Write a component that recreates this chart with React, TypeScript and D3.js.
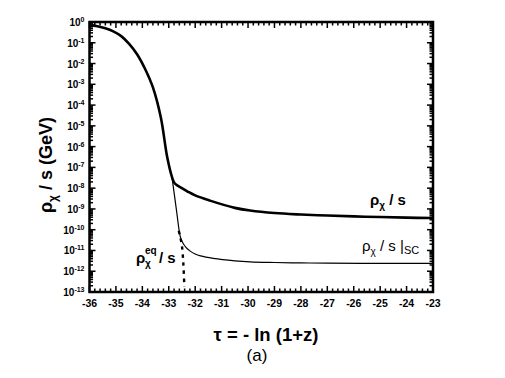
import React from "react";
import * as d3 from "d3";

// tau = -ln(1+z), log10(rho/s)
const thickTau = [-36, -35.7, -35.4, -35.1, -34.8, -34.5, -34.2, -33.9, -33.6, -33.3, -33.06, -32.88, -32.8, -32.7, -32.57, -32.3, -32, -31.44, -30.5, -29.92, -29, -28, -27, -26, -25, -24, -23];
const thickLog = [-0.14, -0.2, -0.3, -0.45, -0.68, -1.05, -1.55, -2.25, -3.15, -4.6, -6.5, -7.46, -7.72, -7.85, -7.95, -8.15, -8.35, -8.6, -8.95, -9.08, -9.2, -9.27, -9.32, -9.36, -9.39, -9.42, -9.44];

const thinTau = [-32.88, -32.8, -32.7, -32.6, -32.55, -32.45, -32.35, -32.2, -32, -31.8, -31.32, -30.5, -29.92, -29, -28, -27, -25, -23];
const thinLog = [-7.46, -8.2, -9.15, -10.1, -10.4, -10.68, -10.85, -11.02, -11.17, -11.26, -11.38, -11.5, -11.55, -11.58, -11.6, -11.61, -11.62, -11.62];

const eqTau = [-32.62, -32.55, -32.5, -32.45, -32.41];
const eqLog = [-10.05, -10.45, -10.8, -11.6, -12.75];

const xTicks = [-36, -35, -34, -33, -32, -31, -30, -29, -28, -27, -26, -25, -24, -23];
const yExps = [0, -1, -2, -3, -4, -5, -6, -7, -8, -9, -10, -11, -12, -13];

const W = 505, H = 378;
const L = 89.5, R = 433, T = 22, B = 292;

export default function App() {
  const x = d3.scaleLinear().domain([-36, -23]).range([L, R]);
  const y = d3.scaleLog().domain([1e-13, 1]).range([B, T]);

  const mk = (ts: number[], ls: number[]) =>
    d3.line<number>()
      .x((_, i) => x(ts[i]))
      .y((_, i) => y(Math.pow(10, ls[i])))
      .curve(d3.curveCatmullRom.alpha(0.5))(ts) || "";

  const xMinor: number[] = [];
  for (let v = -36; v < -23 - 1e-9; v += 0.2) {
    const r = Math.round(v * 10) / 10;
    if (Math.abs(r - Math.round(r)) > 1e-6) xMinor.push(r);
  }
  const yMinor: number[] = [];
  for (let e = -13; e < 0; e++) for (let k = 2; k <= 9; k++) yMinor.push(k * Math.pow(10, e));

  const font = "Arial, 'Liberation Sans', sans-serif";
  return (
    <svg width={W} height={H} style={{ position: "absolute", left: 0, top: 0, background: "#fff" }} fontFamily={font}>
      {/* ticks */}
      <g stroke="#000" strokeWidth={1.5}>
        {xTicks.map((t) => (
          <g key={"xt" + t}>
            <line x1={x(t)} x2={x(t)} y1={B} y2={B - 6} />
            <line x1={x(t)} x2={x(t)} y1={T} y2={T + 6} />
          </g>
        ))}
        {xMinor.map((t) => (
          <g key={"xm" + t}>
            <line x1={x(t)} x2={x(t)} y1={B} y2={B - 3.5} />
            <line x1={x(t)} x2={x(t)} y1={T} y2={T + 3.5} />
          </g>
        ))}
        {yExps.map((e) => (
          <g key={"yt" + e}>
            <line x1={L} x2={L + 6} y1={y(Math.pow(10, e))} y2={y(Math.pow(10, e))} />
            <line x1={R} x2={R - 6} y1={y(Math.pow(10, e))} y2={y(Math.pow(10, e))} />
          </g>
        ))}
        {yMinor.map((v, i) => (
          <g key={"ym" + i}>
            <line x1={L} x2={L + 3.5} y1={y(v)} y2={y(v)} />
            <line x1={R} x2={R - 3.5} y1={y(v)} y2={y(v)} />
          </g>
        ))}
      </g>
      {/* curves */}
      <path d={mk(eqTau, eqLog)} fill="none" stroke="#000" strokeWidth={2.4} strokeDasharray="3.5,4.5" />
      <path d={mk(thinTau, thinLog)} fill="none" stroke="#000" strokeWidth={1.2} />
      <path d={mk(thickTau, thickLog)} fill="none" stroke="#000" strokeWidth={2.6} />
      {/* frame */}
      <rect x={L} y={T} width={R - L} height={B - T} fill="none" stroke="#000" strokeWidth={2.5} />
      {/* x tick labels */}
      {xTicks.map((t) => (
        <text key={"xl" + t} x={x(t)} y={B + 15} textAnchor="middle" fontSize={10.5} fontWeight="bold">{t}</text>
      ))}
      {/* y tick labels */}
      {yExps.map((e) => (
        <text key={"yl" + e} x={L - 5} y={y(Math.pow(10, e)) + 4} textAnchor="end" fontSize={10} fontWeight="bold">
          10<tspan dy={-4} fontSize={7}>{e}</tspan>
        </text>
      ))}
      {/* axis titles */}
      <text transform="translate(52,165) rotate(-90)" textAnchor="middle" fontSize={18} fontWeight="bold">
        ρ<tspan dy={5} fontSize={12}>χ</tspan><tspan dy={-5}> / s (GeV)</tspan>
      </text>
      <text x={266} y={341} textAnchor="middle" fontSize={18.5} fontWeight="bold">τ = - ln (1+z)</text>
      <text x={257} y={361} textAnchor="middle" fontSize={17}>(a)</text>
      {/* curve labels */}
      <text x={370} y={205} fontSize={15} fontWeight="bold">
        ρ<tspan dy={4} fontSize={10}>χ</tspan><tspan dy={-4}> / s</tspan>
      </text>
      <text x={362} y={251} fontSize={15}>
        ρ<tspan dy={4} fontSize={10}>χ</tspan><tspan dy={-4}> / s |</tspan><tspan dy={3} fontSize={11}>SC</tspan>
      </text>
      <g fontWeight="bold">
        <text x={136} y={263} fontSize={15}>ρ</text>
        <text x={145} y={267} fontSize={10}>χ</text>
        <text x={145} y={254} fontSize={10}>eq</text>
        <text x={159} y={263} fontSize={15}>/ s</text>
      </g>
    </svg>
  );
}
